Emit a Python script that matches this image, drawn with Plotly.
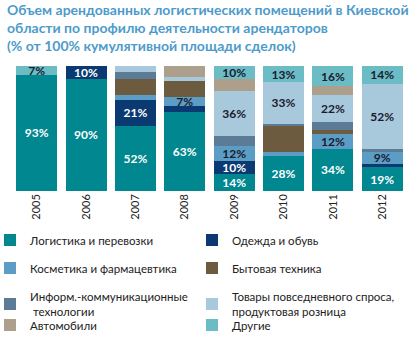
import plotly.graph_objects as go

years = ["2005", "2006", "2007", "2008", "2009", "2010", "2011", "2012"]

series_names = [
    "Логистика и перевозки",
    "Одежда и обувь",
    "Косметика и фармацевтика",
    "Бытовая техника",
    "Информ.-коммуникационные<br> технологии",
    "Товары повседневного спроса,<br>продуктовая розница",
    "Автомобили",
    "Другие",
]

logistics = [93, 90, 52, 63, 14, 28, 34, 19]
clothing = [0, 10, 21, 5, 10, 0, 0, 3]
cosmetics = [0, 0, 4, 7, 12, 3, 12, 9]
appliances = [0, 0, 13, 13, 0, 21, 3, 0]
ict = [0, 0, 5, 0, 8, 2, 6, 3]
consumer = [0, 0, 5, 3, 36, 33, 22, 52]
auto = [0, 0, 0, 9, 10, 0, 7, 0]
other = [7, 0, 0, 0, 10, 13, 16, 14]

series_values = [logistics, clothing, cosmetics, appliances, ict, consumer, auto, other]
colors = ["#00878F", "#0B3A72", "#5B9DC4", "#6D5B3F", "#5C7B97", "#A8C8DC", "#ACA08D", "#6CBCC6"]
labelled = [True, True, True, False, False, True, False, True]
text_colors = ["white", "white", "#1A1A2E", "#1A1A2E", "#1A1A2E", "#1A1A2E", "#1A1A2E", "#1A1A2E"]

FONT = "Lato"

# legend item positions (page px: text start x, first-line centre y)
leg_pos = [
    (30, 240), (232, 240),
    (30, 268), (232, 268),
    (30, 304), (232, 304),
    (30, 325), (232, 325),
]

L, R, T, B = 12, 12, 66, 162
W, H = 419, 353
pw, ph = W - L - R, H - T - B

fig = go.Figure()
layout_legends = {}
for i, (name, vals) in enumerate(zip(series_names, series_values)):
    texts = [f"{v}%" if (labelled[i] and v >= 7) else "" for v in vals]
    lname = "legend" if i == 0 else f"legend{i+1}"
    fig.add_trace(go.Bar(
        x=years, y=vals, name=name, showlegend=True,
        marker=dict(color=colors[i], line=dict(width=0)),
        text=texts, textposition="inside", insidetextanchor="middle",
        textangle=0,
        textfont=dict(family=FONT, size=12, color=text_colors[i], weight="bold"),
        hoverinfo="skip",
        legend=lname,
    ))
    tx, ty = leg_pos[i]
    layout_legends[lname] = dict(
        x=(tx - 40 - L) / pw, y=(H - B - ty) / ph,
        xanchor="left", yanchor="middle",
        font=dict(family=FONT, size=11.5, color="#222222"),
        bgcolor="rgba(0,0,0,0)", itemwidth=30, visible=True,
    )

fig.update_layout(
    width=W, height=H,
    margin=dict(l=L, r=R, t=T, b=B, autoexpand=False),
    barmode="stack", bargap=0.17,
    showlegend=True,
    paper_bgcolor="white", plot_bgcolor="white",
    uniformtext=dict(minsize=12, mode="show"),
    xaxis=dict(
        type="category", tickangle=-90, showgrid=False, showline=False, zeroline=False,
        tickfont=dict(family=FONT, size=11, color="#222222"), ticks="",
    ),
    yaxis=dict(range=[0, 100], visible=False),
    annotations=[dict(
        text="Объем арендованных логистических помещений в Киевской<br>области по профилю деятельности арендаторов<br>(% от 100% кумулятивной площади сделок)",
        xref="paper", yref="paper",
        x=(5 - L) / pw, y=(H - B + 1.5) / ph,
        xanchor="left", yanchor="top", align="left", showarrow=False,
        font=dict(family=FONT, size=14, color="#4D9BCB", weight="bold"),
    )],
    **layout_legends,
)
fig.write_html("out.html")
